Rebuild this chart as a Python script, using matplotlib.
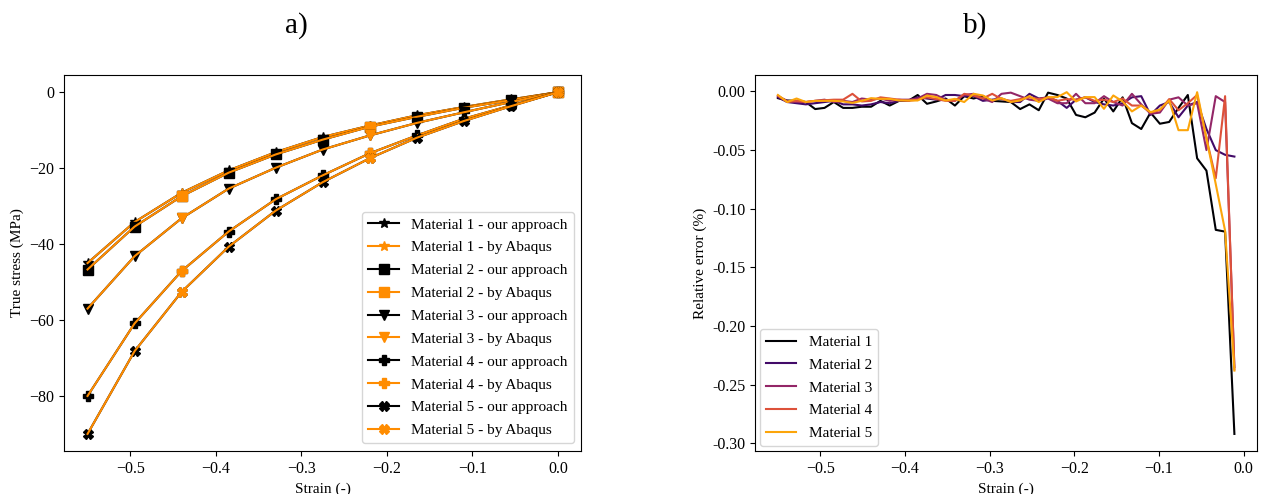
import numpy as np
import matplotlib
matplotlib.use("Agg")
import matplotlib.pyplot as plt

plt.rcParams['font.family'] = ['Liberation Serif', 'DejaVu Serif']
plt.rcParams['font.size'] = 11
plt.rcParams['mathtext.fontset'] = 'stix'

# ---------------- Panel a) data ----------------
strain_a = [-0.55, -0.495, -0.44, -0.385, -0.33, -0.275, -0.22, -0.165, -0.11, -0.055, 0.0]
stress_m1 = [-45.0, -34.2, -26.5, -20.6, -15.8, -11.8, -8.8, -6.1, -3.9, -1.9, 0.0]
stress_m2 = [-46.7, -35.4, -27.4, -21.2, -16.4, -12.5, -9.1, -6.5, -4.1, -2.1, 0.0]
stress_m3 = [-57.0, -43.2, -33.2, -25.4, -19.9, -15.1, -11.4, -8.1, -5.3, -2.6, 0.0]
stress_m4 = [-80.0, -60.9, -47.1, -36.7, -28.2, -21.9, -16.1, -11.4, -7.0, -3.5, 0.0]
stress_m5 = [-90.0, -68.2, -52.6, -40.7, -31.2, -23.7, -17.4, -12.0, -7.6, -3.7, 0.0]
material_names = ["Material 1", "Material 2", "Material 3", "Material 4", "Material 5"]
markers = ['*', 's', 'v', 'P', 'X']

# ---------------- Panel b) data ----------------
strain_b = [-0.550, -0.539, -0.528, -0.517, -0.506, -0.495, -0.484, -0.473, -0.462, -0.451,
            -0.440, -0.429, -0.418, -0.407, -0.396, -0.385, -0.374, -0.363, -0.352, -0.341,
            -0.330, -0.319, -0.308, -0.297, -0.286, -0.275, -0.264, -0.253, -0.242, -0.231,
            -0.220, -0.209, -0.198, -0.187, -0.176, -0.165, -0.154, -0.143, -0.132, -0.121,
            -0.110, -0.099, -0.088, -0.077, -0.066, -0.055, -0.044, -0.033, -0.022, -0.011]
err_m1 = [-0.0057, -0.0077, -0.0080, -0.0090, -0.0150, -0.0140, -0.0090, -0.0140, -0.0140, -0.0130,
          -0.0130, -0.0080, -0.0120, -0.0080, -0.0080, -0.0030, -0.0105, -0.0085, -0.0060, -0.0120,
          -0.0040, -0.0060, -0.0040, -0.0080, -0.0085, -0.0090, -0.0150, -0.0110, -0.0160, -0.0010,
          -0.0030, -0.0060, -0.0200, -0.0220, -0.0180, -0.0060, -0.0170, -0.0050, -0.0270, -0.0320,
          -0.0180, -0.0275, -0.0260, -0.0140, -0.0030, -0.0570, -0.0675, -0.1180, -0.1195, -0.2920]
err_m2 = [-0.0050, -0.0090, -0.0100, -0.0110, -0.0100, -0.0090, -0.0080, -0.0110, -0.0110, -0.0120,
          -0.0110, -0.0090, -0.0100, -0.0080, -0.0080, -0.0050, -0.0060, -0.0070, -0.0030, -0.0030,
          -0.0040, -0.0040, -0.0080, -0.0070, -0.0060, -0.0090, -0.0090, -0.0020, -0.0060, -0.0050,
          -0.0080, -0.0140, -0.0070, -0.0050, -0.0090, -0.0110, -0.0120, -0.0100, -0.0050, -0.0040,
          -0.0200, -0.0120, -0.0090, -0.0220, -0.0120, -0.0090, -0.0320, -0.0500, -0.0540, -0.0555]
err_m3 = [-0.0040, -0.0080, -0.0090, -0.0090, -0.0080, -0.0070, -0.0090, -0.0080, -0.0090, -0.0060,
          -0.0070, -0.0060, -0.0080, -0.0070, -0.0070, -0.0060, -0.0020, -0.0030, -0.0070, -0.0080,
          -0.0030, -0.0020, -0.0060, -0.0090, -0.0020, -0.0010, -0.0040, -0.0070, -0.0080, -0.0060,
          -0.0100, -0.0100, -0.0020, -0.0100, -0.0100, -0.0040, -0.0090, -0.0120, -0.0020, -0.0110,
          -0.0190, -0.0180, -0.0070, -0.0050, -0.0120, -0.0100, -0.0500, -0.0040, -0.0090, -0.2350]
err_m4 = [-0.0035, -0.0090, -0.0080, -0.0090, -0.0080, -0.0075, -0.0070, -0.0070, -0.0020, -0.0085,
          -0.0080, -0.0050, -0.0060, -0.0070, -0.0080, -0.0070, -0.0050, -0.0065, -0.0080, -0.0080,
          -0.0020, -0.0035, -0.0060, -0.0020, -0.0065, -0.0080, -0.0065, -0.0050, -0.0065, -0.0050,
          -0.0080, -0.0065, -0.0070, -0.0050, -0.0080, -0.0070, -0.0090, -0.0060, -0.0120, -0.0120,
          -0.0180, -0.0160, -0.0065, -0.0160, -0.0100, -0.0030, -0.0400, -0.0740, -0.0040, -0.2370]
err_m5 = [-0.0030, -0.0090, -0.0060, -0.0090, -0.0080, -0.0080, -0.0080, -0.0085, -0.0097, -0.0080,
          -0.0057, -0.0063, -0.0063, -0.0077, -0.0077, -0.0077, -0.0034, -0.0048, -0.0077, -0.0063,
          -0.0090, -0.0020, -0.0034, -0.0077, -0.0057, -0.0090, -0.0077, -0.0040, -0.0090, -0.0048,
          -0.0048, -0.0006, -0.0085, -0.0048, -0.0048, -0.0148, -0.0034, -0.0085, -0.0170, -0.0120,
          -0.0176, -0.0154, -0.0077, -0.0330, -0.0330, -0.0006, -0.0400, -0.0790, -0.1187, -0.2380]

stresses = [stress_m1, stress_m2, stress_m3, stress_m4, stress_m5]
errors = [err_m1, err_m2, err_m3, err_m4, err_m5]

fig = plt.figure(figsize=(12.68, 4.94), dpi=100)
ax1 = fig.add_axes([0.0505, 0.087, 0.408, 0.761])
ax2 = fig.add_axes([0.5955, 0.087, 0.396, 0.761])

orange = '#ff8c00'
for name, mk, s in zip(material_names, markers, stresses):
    ax1.plot(strain_a, s, color='black', marker=mk, markersize=7, lw=1.5,
             label=f"{name} - our approach")
    # Abaqus series ordered from 0 strain downward, markers every 4th point
    ax1.plot(strain_a[::-1], s[::-1], color=orange, marker=mk, markersize=7, lw=1.5,
             markevery=4, label=f"{name} - by Abaqus")

ax1.set_xlabel("Strain (-)", fontsize=11)
ax1.set_ylabel("True stress (MPa)", fontsize=11)
ax1.set_yticks([0, -20, -40, -60, -80])
ax1.tick_params(labelsize=11.5)
ax1.legend(loc='lower right', fontsize=11, handlelength=2.0, borderpad=0.4,
           labelspacing=0.6)

cmap = plt.get_cmap('inferno')
colors = [cmap(v) for v in np.linspace(0, 0.8, 5)]
for name, c, e in zip(material_names, colors, errors):
    ax2.plot(strain_b, e, color=c, lw=1.5, label=name)
ax2.set_xlabel("Strain (-)", fontsize=11)
ax2.set_ylabel("Relative error (%)", fontsize=11)
ax2.set_xticks([-0.5, -0.4, -0.3, -0.2, -0.1, 0.0])
ax2.set_yticks([0.0, -0.05, -0.10, -0.15, -0.20, -0.25, -0.30])
ax2.yaxis.set_major_formatter(matplotlib.ticker.FormatStrFormatter('%.2f'))
ax2.tick_params(labelsize=11.5)
ax2.legend(loc='lower left', fontsize=11, handlelength=2.0, borderpad=0.4,
           labelspacing=0.6, borderaxespad=0.3)

fig.text(0.2334, 0.949, "a)", fontsize=21, ha='center', va='center')
fig.text(0.769, 0.949, "b)", fontsize=21, ha='center', va='center')

fig.savefig("out.png", dpi=100)
